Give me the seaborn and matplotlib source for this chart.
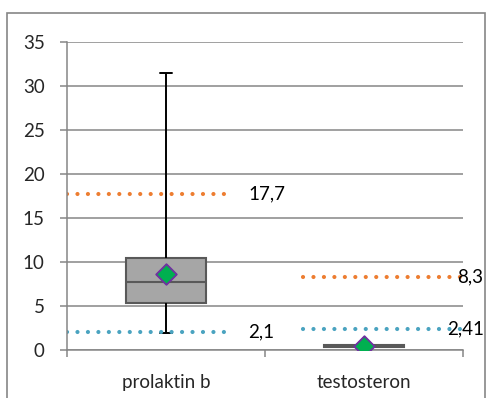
import matplotlib
matplotlib.use("Agg")
import matplotlib.pyplot as plt
import seaborn as sns
import pandas as pd
from matplotlib.patches import Rectangle

# Box summary per hormone
categories = ["prolaktin b", "testosteron"]
whisker_low = [1.9, 0.3]
q1 = [5.3, 0.35]
median = [7.7, 0.45]
q3 = [10.4, 0.6]
whisker_high = [31.5, 0.7]
means = [8.6, 0.5]

# Reference range limits
upper_limits = [17.7, 8.3]
lower_limits = [2.1, 2.41]
upper_labels = ["17,7", "8,3"]
lower_labels = ["2,1", "2,41"]

y_ticks = [0, 5, 10, 15, 20, 25, 30, 35]

GRID = "#868686"
ORANGE = "#ed7d31"
TEAL = "#4aa3c0"
FS = 13.5

sns.set_theme(style="white")
plt.rcParams["font.family"] = ["Lato", "DejaVu Sans"]

# five summary values per category -> quartiles land exactly on q1/median/q3
rows = []
for i, cat in enumerate(categories):
    for v in (whisker_low[i], q1[i], median[i], q3[i], whisker_high[i]):
        rows.append({"category": cat, "value": v})
df = pd.DataFrame(rows)

fig = plt.figure(figsize=(4.86, 3.98), dpi=100)
ax = fig.add_axes([67 / 486, 48 / 398, 396 / 486, 308 / 398])

# horizontal gridlines
for t in y_ticks:
    ax.axhline(t, color=GRID, lw=1.1, zorder=0)

sns.boxplot(
    data=df, x="category", y="value", order=categories, ax=ax,
    whis=(0, 100), width=0.4, saturation=1, color="#a6a6a6",
    linecolor="#595959", linewidth=1.5, showfliers=False,
    whiskerprops=dict(color="black", lw=1.4),
    capprops=dict(color="black", lw=1.4),
    medianprops=dict(color="#595959", lw=1.5),
    capwidths=0.06, zorder=3,
)

sns.stripplot(
    x=categories, y=means, order=categories, ax=ax, jitter=False,
    marker="D", size=10.5, color="#00b050", edgecolor="#7030a0",
    linewidth=1.3, zorder=6,
)

# dotted limit lines with value labels
spans = [(-0.5, 0.31), (0.69, 1.5)]
upper_label_x = [0.415, 1.47]
lower_label_x = [0.415, 1.42]
for i in range(len(categories)):
    for val, col in ((upper_limits[i], ORANGE), (lower_limits[i], TEAL)):
        ax.hlines(val, spans[i][0], spans[i][1], colors=col, lw=3,
                  linestyles=[(0, (0.01, 2.5))], capstyle="round", zorder=4)
    ax.text(upper_label_x[i], upper_limits[i], upper_labels[i], ha="left",
            va="center", fontsize=FS, color="black", zorder=7)
    ax.text(lower_label_x[i], lower_limits[i], lower_labels[i], ha="left",
            va="center", fontsize=FS, color="black", zorder=7)

ax.set_xlim(-0.5, 1.5)
ax.set_ylim(0, 35)
ax.set_yticks(y_ticks)
ax.set_yticklabels([str(t) for t in y_ticks], fontsize=FS)
ax.set_xticks([0, 1])
ax.set_xticklabels(categories, fontsize=FS)
ax.set_xticks([-0.5, 0.5, 1.5], minor=True)
ax.tick_params(axis="x", which="major", length=0, pad=17)
ax.tick_params(axis="x", which="minor", length=5, width=1.1, color=GRID,
               bottom=True)
ax.tick_params(axis="y", length=5, width=1.1, color=GRID, left=True, pad=11)
ax.set_xlabel("")
ax.set_ylabel("")

for side in ("top", "right"):
    ax.spines[side].set_visible(False)
for side in ("left", "bottom"):
    ax.spines[side].set_color(GRID)
    ax.spines[side].set_linewidth(1.1)
    ax.spines[side].set_zorder(5)

# chart area border
fig.patches.append(Rectangle((7 / 486, -0.02), 478 / 486, (398 - 13) / 398 + 0.02,
                             transform=fig.transFigure, fill=False,
                             edgecolor=GRID, lw=1.2))

fig.savefig("out.png", dpi=100)
